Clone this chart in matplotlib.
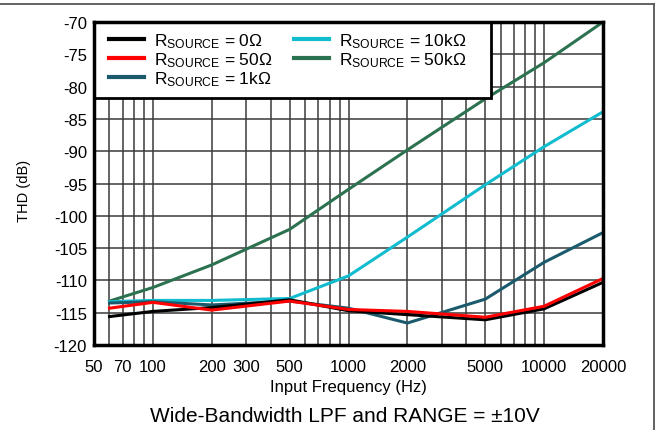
import matplotlib
matplotlib.use("Agg")
import matplotlib.pyplot as plt
from matplotlib.lines import Line2D
from matplotlib.patches import Rectangle
from matplotlib.ticker import FixedLocator, NullFormatter, NullLocator

plt.rcParams['font.family'] = ['Liberation Sans', 'DejaVu Sans']
plt.rcParams['mathtext.fontset'] = 'custom'
plt.rcParams['mathtext.rm'] = 'Liberation Sans'
plt.rcParams['mathtext.it'] = 'Liberation Sans:italic'
plt.rcParams['mathtext.bf'] = 'Liberation Sans:bold'

freq = [60, 100, 200, 500, 1000, 2000, 5000, 10000, 20000]
thd_0 = [-115.6, -114.8, -114.2, -113.0, -114.7, -115.3, -116.1, -114.4, -110.3]
thd_50 = [-114.3, -113.4, -114.6, -113.2, -114.5, -114.8, -115.7, -114.0, -109.7]
thd_1k = [-113.5, -113.3, -113.8, -113.2, -114.3, -116.6, -112.9, -107.2, -102.6]
thd_10k = [-113.3, -113.1, -113.1, -112.8, -109.3, -103.3, -95.2, -89.3, -83.9]
thd_50k = [-113.2, -111.1, -107.6, -102.1, -95.9, -89.8, -81.9, -76.3, -70.0]

labels = ['0\u03a9', '50\u03a9', '1k\u03a9', '10k\u03a9', '50k\u03a9']
colors = ['#000000', '#ff0000', '#1b5a6c', '#12bccf', '#2d7250']

xticks = [50, 70, 100, 200, 300, 500, 1000, 2000, 5000, 10000, 20000]
yticks = [-70, -75, -80, -85, -90, -95, -100, -105, -110, -115, -120]

fig = plt.figure(figsize=(6.59, 4.31), dpi=100)
ax = fig.add_axes([94/659, 1-346/431, (603-94)/659, (346-23)/431])

series = [thd_0, thd_50, thd_1k, thd_10k, thd_50k]
order = [4, 3, 2, 0, 1]
handles = {}
for i in order:
    h, = ax.plot(freq, series[i], color=colors[i], lw=2.2, zorder=3,
                 solid_joinstyle='miter')
    handles[i] = h

ax.set_xscale('log')
ax.set_xlim(50, 20000)
ax.set_ylim(-120, -70)

grid_x = [m * 10**e for e in range(1, 5) for m in range(1, 10)]
grid_x = [g for g in grid_x if 50 < g < 20000]
for g in grid_x:
    ax.axvline(g, color='#3a3a3a', lw=1.1, zorder=1)
for y in yticks[1:-1]:
    ax.axhline(y, color='#3a3a3a', lw=1.1, zorder=1)

ax.xaxis.set_major_locator(FixedLocator(xticks))
ax.xaxis.set_minor_locator(NullLocator())
ax.xaxis.set_minor_formatter(NullFormatter())
ax.set_xticklabels([str(v) for v in xticks])
ax.set_yticks(yticks)
ax.set_yticklabels([str(v) for v in yticks])
ax.tick_params(axis='x', length=0, labelsize=12, pad=10)
ax.tick_params(axis='y', length=0, labelsize=12, pad=5)

for s in ax.spines.values():
    s.set_linewidth(2.5)
    s.set_color('black')
    s.set_zorder(6)

ax.set_xlabel('Input Frequency (Hz)', fontsize=12)
ax.xaxis.label.set_va('center')
ax.xaxis.set_label_coords(0.5, -(388-346)/323)
ax.set_ylabel('THD (dB)', fontsize=10.5)
ax.yaxis.label.set_va('center')
ax.yaxis.set_label_coords(-(94-24)/509, 0.48)

# legend background box
rect = Rectangle((0, (346-99)/323), (491-94)/509, 1-(346-99)/323,
                 transform=ax.transAxes, facecolor='white', edgecolor='black',
                 lw=2.0, zorder=4, clip_on=False)
ax.add_patch(rect)

leg_labels = ['R$_{\\mathrm{SOURCE}}$ = ' + l for l in labels]
common = dict(loc='upper left', frameon=False, fontsize=12.5, handlelength=2.0,
              handletextpad=0.6, labelspacing=0.0, borderaxespad=0,
              borderpad=0)
top_y = 1 - (32.5-23)/323
leg1 = ax.legend([handles[i] for i in [0, 1, 2]], leg_labels[:3],
                 bbox_to_anchor=((109-94)/509, top_y), **common)
leg1.set_zorder(5)
for lh in leg1.get_lines():
    lh.set_linewidth(3)
ax.add_artist(leg1)
leg2 = ax.legend([handles[i] for i in [3, 4]], leg_labels[3:],
                 bbox_to_anchor=((294-94)/509, top_y), **common)
leg2.set_zorder(5)
for lh in leg2.get_lines():
    lh.set_linewidth(3)

fig.text(345/659, 1-417/431, 'Wide-Bandwidth LPF and RANGE = \u00b110V',
         ha='center', va='center', fontsize=15)

fig.add_artist(Line2D([0, 654/659], [1-5/431, 1-5/431], color='#555555', lw=1.3,
                      transform=fig.transFigure))
fig.add_artist(Line2D([654/659, 654/659], [0, 1-5/431], color='#555555', lw=1.3,
                      transform=fig.transFigure))

fig.savefig('out.png', dpi=100)
